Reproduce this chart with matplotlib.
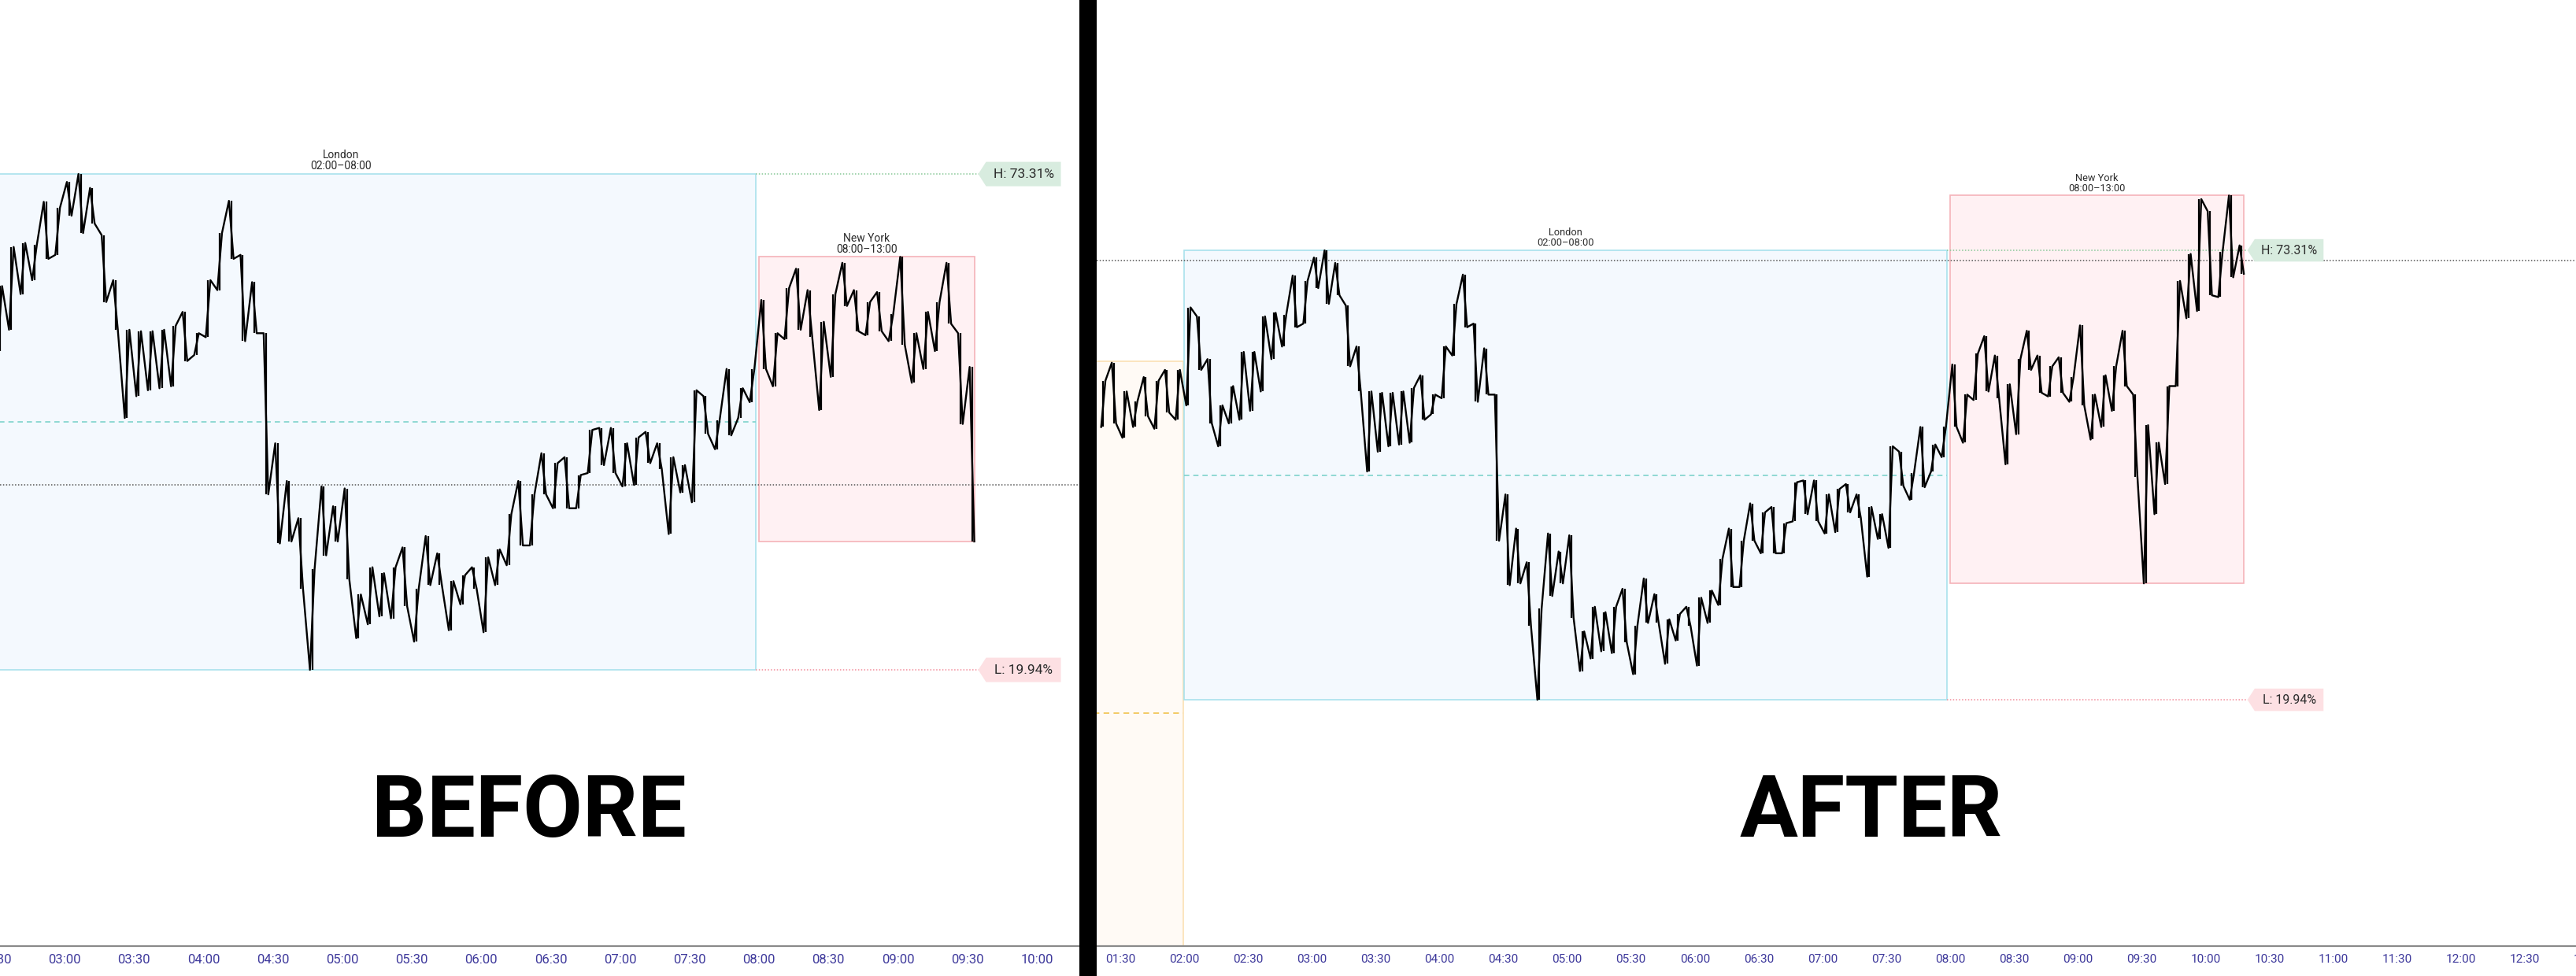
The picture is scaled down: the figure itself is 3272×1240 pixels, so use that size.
import matplotlib
matplotlib.use("Agg")

from matplotlib import pyplot as plt
from matplotlib.patches import Rectangle, Polygon
from matplotlib.transforms import IdentityTransform, blended_transform_factory
import numpy as np

# price in 5-minute groups (minutes after midnight),
# scaled so the London low is 0 and the London high is 100
block_start = list(range(80, 620, 5))
block_high = [
    71.0, 75.0, 68.6, 66.3, 71.8, 71.0, 73.4, 73.4,
    87.3, 85.3, 75.8, 65.5, 69.8, 77.4, 77.4, 85.3, 86.1, 85.7, 94.4, 93.2,
    98.4, 100.0, 97.2, 87.7, 78.6, 68.6, 68.3, 68.3, 68.6, 69.4, 72.2, 67.9,
    78.6, 88.1, 94.6, 83.7, 78.2, 67.9, 45.7, 38.1, 30.6, 20.3, 37.0, 33.0,
    36.6, 15.2, 20.7, 19.5, 20.7, 24.7, 16.4, 27.0, 23.5, 17.9, 19.1, 20.7,
    22.7, 24.3, 31.4, 38.1, 35.4, 43.7, 41.7, 42.9, 39.3, 48.4, 48.8, 48.8,
    45.7, 46.9, 48.0, 45.7, 42.9, 41.3, 56.4, 55.2, 50.4, 60.7, 56.8, 60.7,
    74.6, 67.9, 77.0, 80.9, 76.6, 70.2, 75.8, 82.1, 76.6, 74.2, 76.2, 71.8,
    83.3, 67.9, 72.2, 74.2, 82.1, 67.9, 61.1, 57.2, 69.8, 93.2, 99.2, 111.4,
    108.7, 99.6, 112.2, 101.1,
]
block_low = [
    60.7, 61.5, 58.3, 60.7, 63.1, 60.3, 63.9, 62.3,
    65.5, 73.4, 61.5, 56.4, 61.5, 62.3, 64.3, 68.6, 75.8, 78.6, 82.9, 83.7,
    91.6, 88.1, 90.0, 74.2, 68.6, 50.8, 55.2, 56.4, 56.8, 57.2, 62.3, 63.5,
    67.1, 76.6, 82.9, 66.3, 67.9, 35.4, 25.5, 25.9, 16.4, 0.0, 23.1, 25.9,
    18.3, 6.4, 9.2, 10.8, 10.4, 12.8, 5.7, 17.1, 17.1, 8.0, 13.2, 16.4,
    7.6, 17.1, 21.1, 25.1, 25.1, 35.4, 32.6, 32.6, 32.6, 39.7, 41.3, 39.7,
    37.0, 37.3, 41.7, 40.5, 27.4, 35.8, 33.8, 47.6, 44.5, 47.3, 50.8, 54.0,
    60.7, 57.2, 66.7, 68.6, 67.1, 52.4, 59.1, 73.4, 68.3, 67.5, 68.3, 66.3,
    65.5, 57.9, 60.7, 64.3, 69.8, 49.6, 25.9, 41.3, 48.0, 69.8, 84.9, 86.5,
    90.0, 89.6, 94.0, 94.8,
]

asia_range = (-81.3, 75.3)       # most of the Asia session is off the left edge
last_price_before = 37.3
last_price_after = 97.7
before_last_block = 570          # the BEFORE snapshot stops at 09:33

high_text = "H: 73.31%"
low_text = "L: 19.94%"

ticks_before = ["02:30", "03:00", "03:30", "04:00", "04:30", "05:00", "05:30",
                "06:00", "06:30", "07:00", "07:30", "08:00", "08:30", "09:00",
                "09:30", "10:00"]
ticks_after = ["01:30", "02:00", "02:30", "03:00", "03:30", "04:00", "04:30",
               "05:00", "05:30", "06:00", "06:30", "07:00", "07:30", "08:00",
               "08:30", "09:00", "09:30", "10:00", "10:30", "11:00", "11:30",
               "12:00", "12:30", "13:00"]

W, H = 3272, 1240
TICK_COLOR = "#3f3a9c"
TEXT_COLOR = "#2b2b2b"


def to_min(label):
    h, m = label.split(":")
    return int(h) * 60 + int(m)


def zigzag(starts, highs, lows):
    mids = [(h + l) / 2 for h, l in zip(highs, lows)]
    xs, ys = [], []
    n = len(starts)
    for i in range(n):
        if i + 1 < n:
            up = mids[i + 1] > mids[i]
        else:
            up = mids[i] > mids[i - 1]
        first, second = (lows[i], highs[i]) if up else (highs[i], lows[i])
        xs += [starts[i] + 1.0, starts[i] + 3.0]
        ys += [first, second]
    return xs, ys


def price_tag(ax, x, y, text, face, s):
    px, py = ax.transData.transform((x, y))
    px += 5 * s
    w, h, notch = 95 * s, 31 * s, 10 * s
    verts = [(px, py), (px + notch, py + h / 2), (px + notch + w, py + h / 2),
             (px + notch + w, py - h / 2), (px + notch, py - h / 2)]
    ax.add_patch(Polygon(verts, closed=True, transform=IdentityTransform(),
                         facecolor=face, edgecolor="none", clip_on=False, zorder=6))
    ax.text(px + notch + w / 2, py, text, transform=IdentityTransform(),
            ha="center", va="center", fontsize=12.5 * s, family="Roboto",
            color=TEXT_COLOR, zorder=7, clip_on=False)
    return px


def draw_panel(ax, last_block, xlim, ylim, last_price, ticks, s, show_asia):
    starts = [b for b in block_start if b <= last_block]
    n = len(starts)
    highs, lows = block_high[:n], block_low[:n]
    end_x = starts[-1] + 3.0

    ax.set_xlim(*xlim)
    ax.set_ylim(*ylim)

    lon = [i for i, b in enumerate(starts) if 120 <= b < 480]
    ny = [i for i, b in enumerate(starts) if b >= 480]
    lon_hi, lon_lo = max(highs[i] for i in lon), min(lows[i] for i in lon)
    ny_hi, ny_lo = max(highs[i] for i in ny), min(lows[i] for i in ny)
    lon_end = 478.5

    if show_asia:
        a_lo, a_hi = asia_range
        ax.add_patch(Rectangle((40, a_lo), 119.5 - 40, a_hi - a_lo, facecolor="#fffaf5",
                               edgecolor="#fbe0b4", lw=1.2, zorder=1))
        ax.plot([40, 119.5], [(a_lo + a_hi) / 2] * 2, color="#f2c75a", lw=1.3,
                dashes=(4, 3), zorder=2)

    ax.add_patch(Rectangle((120, lon_lo), lon_end - 120, lon_hi - lon_lo,
                           facecolor="#f4f9fe", edgecolor="#a9e1ec", lw=1.2, zorder=1))
    ax.plot([120, lon_end], [(lon_hi + lon_lo) / 2] * 2, color="#7fd3cc", lw=1.2,
            dashes=(4, 3), zorder=2)
    ax.add_patch(Rectangle((480, ny_lo), end_x - 480, ny_hi - ny_lo,
                           facecolor="#fff1f3", edgecolor="#f5b3b9", lw=1.2, zorder=1))

    ax.annotate("London\n02:00\u201308:00", ((120 + lon_end) / 2, lon_hi),
                xytext=(0, 2), textcoords="offset points", ha="center", va="bottom",
                fontsize=10 * s, family="Roboto", color=TEXT_COLOR, linespacing=1.0)
    ax.annotate("New York\n08:00\u201313:00", ((480 + end_x) / 2, ny_hi),
                xytext=(0, 2), textcoords="offset points", ha="center", va="bottom",
                fontsize=10 * s, family="Roboto", color=TEXT_COLOR, linespacing=1.0)

    ax.axhline(last_price, color="#555555", lw=1.1, dashes=(1, 1.5), zorder=3)

    # bars: a vertical stroke per group plus the zig-zag path through them
    ax.vlines([b + 2.0 for b in starts], lows, highs, color="black", lw=1.6, zorder=4)
    xs, ys = zigzag(starts, highs, lows)
    ax.plot(xs, ys, color="black", lw=1.7, zorder=4)

    tag_x = price_tag(ax, end_x, lon_hi, high_text, "#d8ecdf", s)
    price_tag(ax, end_x, lon_lo, low_text, "#fde0e3", s)
    tag_data_x = ax.transData.inverted().transform((tag_x, 0))[0]
    ax.plot([lon_end, tag_data_x], [lon_hi] * 2, color="#86c796", lw=1.1,
            dashes=(1, 1.5), zorder=3)
    ax.plot([lon_end, tag_data_x], [lon_lo] * 2, color="#f28c9a", lw=1.1,
            dashes=(1, 1.5), zorder=3)

    for side in ["top", "left", "right"]:
        ax.spines[side].set_visible(False)
    ax.spines["bottom"].set_color("#8a8a8a")
    ax.spines["bottom"].set_linewidth(1.6)
    ax.set_xticks([])
    ax.set_yticks([])

    trans = blended_transform_factory(ax.transData, ax.transAxes)
    for lab in ticks:
        ax.text(to_min(lab), -0.0145, lab, transform=trans, ha="center", va="center",
                fontsize=12 * s, family="Roboto", color=TICK_COLOR, clip_on=False)


def main():
    fig = plt.figure(figsize=(W / 100, H / 100), dpi=100)
    fig.patch.set_facecolor("white")

    ax_bottom = (H - 1202) / H
    ax_height = 1202 / H
    ax1 = fig.add_axes([0, ax_bottom, 1371 / W, ax_height])
    ax2 = fig.add_axes([1393 / W, ax_bottom, (W - 1393) / W, ax_height])

    draw_panel(ax1, before_last_block, (152.1, 618.4), (-55.7, 135.1),
               last_price_before, ticks_before, 1.0, False)
    draw_panel(ax2, block_start[-1], (78.9, 774.1), (-54.8, 155.7),
               last_price_after, ticks_after, 0.92, True)

    fig.add_artist(Rectangle((1371 / W, 0), 22 / W, 1, transform=fig.transFigure,
                             facecolor="black", edgecolor="none", zorder=10))

    fig.text(672 / W, (H - 1033) / H, "BEFORE", ha="center", va="center",
             fontsize=79, fontweight="bold", family="Roboto", color="black")
    fig.text(2377 / W, (H - 1033) / H, "AFTER", ha="center", va="center",
             fontsize=79, fontweight="bold", family="Roboto", color="black")

    fig.savefig("out.png", dpi=100)
    plt.close(fig)


if __name__ == "__main__":
    main()
